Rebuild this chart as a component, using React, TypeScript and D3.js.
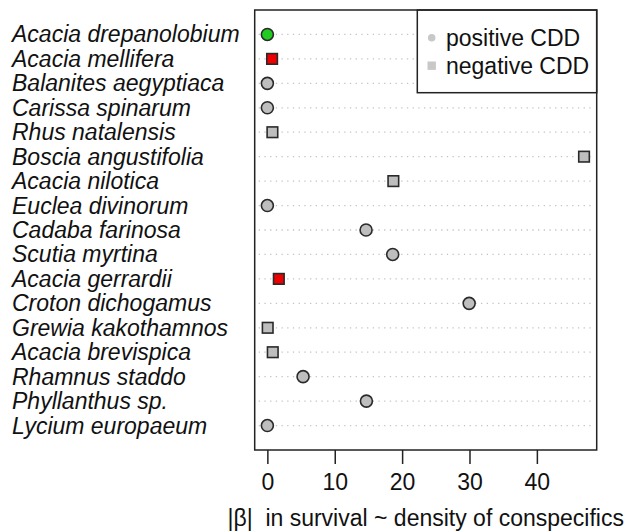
import React, { useRef, useEffect } from 'react';
import * as d3 from 'd3';

// species, top to bottom
const species = [
  'Acacia drepanolobium',
  'Acacia mellifera',
  'Balanites aegyptiaca',
  'Carissa spinarum',
  'Rhus natalensis',
  'Boscia angustifolia',
  'Acacia nilotica',
  'Euclea divinorum',
  'Cadaba farinosa',
  'Scutia myrtina',
  'Acacia gerrardii',
  'Croton dichogamus',
  'Grewia kakothamnos',
  'Acacia brevispica',
  'Rhamnus staddo',
  'Phyllanthus sp.',
  'Lycium europaeum',
];

// |beta| values
const beta = [0, 0.7, 0, 0, 0.75, 47, 18.7, 0, 14.65, 18.6, 1.7, 29.95, 0.05, 0.8, 5.3, 14.7, 0];

// sign of CDD: 'pos' -> circle, 'neg' -> square
const cdd = ['pos', 'neg', 'pos', 'pos', 'neg', 'neg', 'neg', 'pos', 'pos', 'pos', 'neg', 'pos', 'neg', 'neg', 'pos', 'pos', 'pos'];

// highlighted species
const highlight = ['green', 'red', '', '', '', '', '', '', '', '', 'red', '', '', '', '', '', ''];

const xTicks = [0, 10, 20, 30, 40];
const legendLabels = ['positive CDD', 'negative CDD'];

const Chart = () => {
  const svgRef = useRef(null);

  useEffect(() => {
    const w = 627;
    const h = 532;
    const left = 254.7;
    const right = 596.7;
    const top = 10;
    const bottom = 450;
    const font = 'Liberation Sans, Arial, sans-serif';
    const fillFor = { green: '#1fcc1f', red: '#ee0000', '': '#bebebe' };

    const svg = d3.select(svgRef.current)
      .attr('width', w)
      .attr('height', h);
    svg.selectAll('*').remove();

    // R style 4% extension
    const xMax = d3.max(beta);
    const pad = 0.04 * xMax;
    const x = d3.scaleLinear().domain([-pad, xMax + pad]).range([left, right]);
    const y = d3.scaleLinear().domain([0, species.length + 1]).range([top, bottom]);

    // dotted row lines
    svg.append('g')
      .selectAll('line')
      .data(species)
      .join('line')
      .attr('x1', left + 4)
      .attr('x2', right - 3)
      .attr('y1', (d, i) => y(i + 1))
      .attr('y2', (d, i) => y(i + 1))
      .attr('stroke', '#c4c4c4')
      .attr('stroke-width', 1.3)
      .attr('stroke-dasharray', '1.3,4.4');

    // species labels
    svg.append('g')
      .selectAll('text')
      .data(species)
      .join('text')
      .attr('x', 12)
      .attr('y', (d, i) => y(i + 1))
      .attr('dy', '0.35em')
      .attr('font-family', font)
      .attr('font-style', 'italic')
      .attr('font-size', 23)
      .attr('fill', '#111')
      .text(d => d);

    // legend box
    const lg = svg.append('g');
    lg.append('rect')
      .attr('x', 417.3)
      .attr('y', top)
      .attr('width', right - 417.3)
      .attr('height', 82.7)
      .attr('fill', 'white')
      .attr('stroke', '#222')
      .attr('stroke-width', 1.5);
    lg.append('circle')
      .attr('cx', 431.7)
      .attr('cy', 37.7)
      .attr('r', 3.8)
      .attr('fill', '#c8c8c8');
    lg.append('rect')
      .attr('x', 431.7 - 4.2)
      .attr('y', 65.7 - 4.2)
      .attr('width', 8.4)
      .attr('height', 8.4)
      .attr('fill', '#c8c8c8');
    lg.selectAll('text')
      .data(legendLabels)
      .join('text')
      .attr('x', 446)
      .attr('y', (d, i) => 37.7 + i * 28)
      .attr('dy', '0.35em')
      .attr('font-family', font)
      .attr('font-size', 23)
      .attr('fill', '#111')
      .text(d => d);

    // plot box
    svg.append('rect')
      .attr('x', left)
      .attr('y', top)
      .attr('width', right - left)
      .attr('height', bottom - top)
      .attr('fill', 'none')
      .attr('stroke', '#222')
      .attr('stroke-width', 1.5);

    // points
    const pts = svg.append('g');
    species.forEach((s, i) => {
      const cx = x(beta[i]);
      const cy = y(i + 1);
      const fill = fillFor[highlight[i]];
      if (cdd[i] === 'pos') {
        pts.append('circle')
          .attr('cx', cx)
          .attr('cy', cy)
          .attr('r', 6)
          .attr('fill', fill)
          .attr('stroke', '#2a2a2a')
          .attr('stroke-width', 1.6);
      } else {
        pts.append('rect')
          .attr('x', cx - 5.3)
          .attr('y', cy - 5.3)
          .attr('width', 10.6)
          .attr('height', 10.6)
          .attr('fill', fill)
          .attr('stroke', '#2a2a2a')
          .attr('stroke-width', 1.6);
      }
    });

    // x axis
    const xAxis = d3.axisBottom(x)
      .tickValues(xTicks)
      .tickSize(14)
      .tickPadding(10);

    const ax = svg.append('g')
      .attr('transform', `translate(0, ${bottom})`)
      .call(xAxis);
    ax.select('.domain').remove();
    ax.selectAll('line').attr('stroke', '#222').attr('stroke-width', 1.5);
    ax.selectAll('text')
      .attr('font-family', font)
      .attr('font-size', 23)
      .attr('fill', '#111');

    svg.append('text')
      .attr('x', (left + right) / 2)
      .attr('y', 518)
      .attr('dy', '0.35em')
      .attr('text-anchor', 'middle')
      .attr('font-family', font)
      .attr('font-size', 23)
      .attr('fill', '#111')
      .attr('xml:space', 'preserve')
      .style('white-space', 'pre')
      .text('|\u03b2|  in survival ~ density of conspecifics');
  }, []);

  return (
    <div style={{ position: 'absolute', left: 0, top: 0 }}>
      <svg ref={svgRef} style={{ display: 'block' }}></svg>
    </div>
  );
};

export default function App() {
  return <Chart />;
}
